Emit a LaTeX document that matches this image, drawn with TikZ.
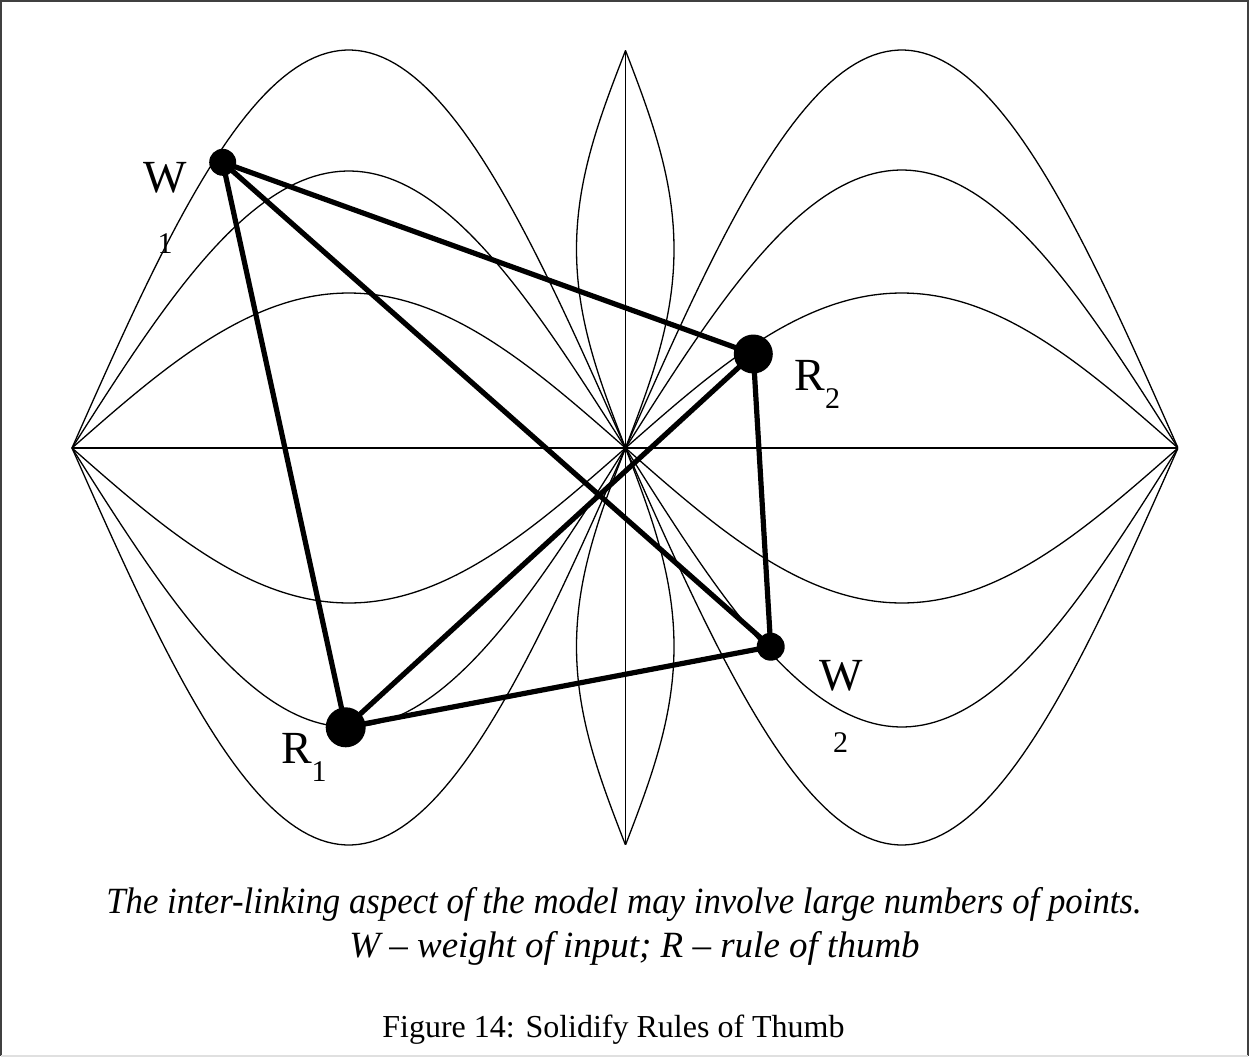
\documentclass[tikz,border=0pt]{standalone}
\usepackage{fontspec}
\setmainfont{Liberation Serif}
\begin{document}
\begin{tikzpicture}[x=1pt,y=-1pt,
  thinline/.style={line width=1.3pt},
  link/.style={line width=5.2pt},
  dot/.style={circle,fill=black,inner sep=0pt},
  lbl/.style={anchor=base,inner sep=0pt,font=\fontsize{46}{50}\selectfont},
  sublbl/.style={anchor=base,inner sep=0pt,font=\fontsize{30}{34}\selectfont},
  captxt/.style={anchor=base,inner sep=0pt,font=\fontsize{37}{44}\selectfont\itshape},
  figtxt/.style={anchor=base,inner sep=0pt,font=\fontsize{32}{38}\selectfont}]
\useasboundingbox (0,0) rectangle (1249,1057);
% frame
\draw[black!75,line width=1.5pt] (1,1056) -- (1,1) -- (1248,1) -- (1248,1056);
\draw[black!12,line width=1.5pt] (1,1056) -- (1248,1056);
% key points
\coordinate (L) at (72,448);
\coordinate (C) at (625.5,448);
\coordinate (R) at (1178,448);
\coordinate (T) at (625.5,50.5);
\coordinate (B) at (625.5,845);
% curves
\foreach \a in {398,277,155}
  \draw[thinline] plot[domain=0:1,samples=90] ({72+553.5*\x},{448-\a*sin(180*\x)});
\foreach \a in {397,279,155}
  \draw[thinline] plot[domain=0:1,samples=90] ({72+553.5*\x},{448+\a*sin(180*\x)});
\foreach \a in {398,278,155}
  \draw[thinline] plot[domain=0:1,samples=90] ({625.5+552.5*\x},{448-\a*sin(180*\x)});
\foreach \a in {397,279,155}
  \draw[thinline] plot[domain=0:1,samples=90] ({625.5+552.5*\x},{448+\a*sin(180*\x)});
% lens
\draw[thinline] plot[domain=0:1,samples=90] ({625.5-49*sin(180*\x)},{448-397.5*\x});
\draw[thinline] plot[domain=0:1,samples=90] ({625.5+48.5*sin(180*\x)},{448-397.5*\x});
\draw[thinline] plot[domain=0:1,samples=90] ({625.5-49*sin(180*\x)},{448+397*\x});
\draw[thinline] plot[domain=0:1,samples=90] ({625.5+48.5*sin(180*\x)},{448+397*\x});
% straight axes
\draw[thinline] (L) -- (R);
\draw[thinline] (T) -- (B);
% dots
\node[dot,minimum size=27pt] (w1) at (222.7,162.3) {};
\node[dot,minimum size=39pt] (r2) at (753.3,354) {};
\node[dot,minimum size=28pt] (w2) at (770.7,646.7) {};
\node[dot,minimum size=40pt] (r1) at (345.7,727.3) {};
% links
\draw[link] (w1.center) -- (r2.center);
\draw[link] (w1.center) -- (w2.center);
\draw[link] (w1.center) -- (r1.center);
\draw[link] (r1.center) -- (r2.center);
\draw[link] (r1.center) -- (w2.center);
\draw[link] (r2.center) -- (w2.center);
% labels
\node[lbl] (w1l) at (165.5,192.7) {W};
\node[sublbl] (w1s) at (165,253) {1};
\node[lbl] (r1l) at (296.5,763) {R};
\node[sublbl] (r1s) at (319,781) {1};
\node[lbl] (r2l) at (810,390) {R};
\node[sublbl] (r2s) at (832.5,408) {2};
\node[lbl] (w2l) at (841.5,690) {W};
\node[sublbl] (w2s) at (840.5,752) {2};
% captions
\node[captxt,xscale=0.94,transform shape] (cap1) at (624,913) {The inter-linking aspect of the model may involve large numbers of points.};
\node[captxt] (cap2) at (634.5,957) {W – weight of input; R – rule of thumb};
\node[figtxt] (fig) at (613.5,1037) {Figure 14: Solidify Rules of Thumb};
\end{tikzpicture}
\end{document}
